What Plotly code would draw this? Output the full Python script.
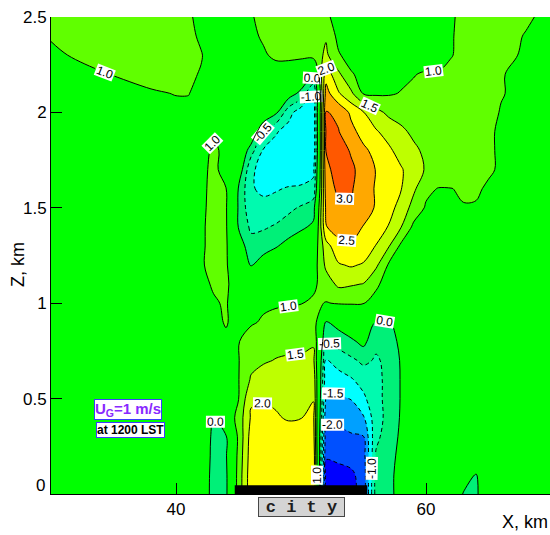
import plotly.graph_objects as go

# ---- grid (km) ----
X_KM = [30, 34, 38, 40, 41, 42, 43, 44, 45, 46, 47, 48, 49, 50, 51, 52,
        53, 54, 55, 56, 57, 58, 59, 60, 61, 62, 63, 64, 65, 66, 68, 70]
Z_KM = [0.0, 0.1, 0.2, 0.3, 0.4, 0.5, 0.6, 0.7, 0.8, 0.9, 1.0, 1.1, 1.2,
        1.3, 1.4, 1.5, 1.6, 1.7, 1.8, 1.9, 2.0, 2.1, 2.2, 2.3, 2.4, 2.5]

# horizontal wind U (m/s), rows listed from the top (z = 2.5 km) down to the surface
U_TOP_DOWN = [
    [1.20, 1.20, 1.15, 1.10, 1.05, 0.90, 0.85, 0.85, 0.90, 0.97, 1.10, 1.15, 1.20, 1.20, 1.20, 1.05, 0.90, 0.85, 0.80, 0.80, 0.80, 0.80, 0.80, 0.85, 0.90, 0.95, 1.10, 1.15, 1.15, 1.15, 1.05, 0.90],
    [1.02, 1.15, 1.15, 1.12, 1.08, 0.95, 0.85, 0.80, 0.85, 0.92, 1.05, 1.20, 1.25, 1.30, 1.35, 1.45, 0.85, 0.80, 0.80, 0.80, 0.80, 0.80, 0.80, 0.80, 0.90, 0.97, 1.10, 1.15, 1.15, 1.12, 0.98, 0.85],
    [0.95, 1.10, 1.12, 1.10, 1.08, 1.02, 0.85, 0.80, 0.80, 0.85, 0.95, 1.08, 1.10, 1.10, 1.20, 1.60, 1.05, 0.80, 0.75, 0.75, 0.75, 0.75, 0.75, 0.75, 0.85, 0.98, 1.10, 1.15, 1.15, 1.10, 0.95, 0.85],
    [0.90, 0.98, 1.10, 1.08, 1.05, 0.98, 0.85, 0.80, 0.80, 0.80, 0.80, 0.80, 0.75, 0.60, 0.10, 2.30, 1.60, 1.05, 0.85, 0.80, 0.80, 0.90, 0.98, 1.05, 1.03, 1.10, 1.15, 1.15, 1.12, 1.02, 0.90, 0.85],
    [0.85, 0.90, 0.97, 1.01, 1.01, 0.90, 0.85, 0.80, 0.80, 0.80, 0.75, 0.60, 0.30, -0.15, -1.10, 2.70, 2.05, 1.60, 0.95, 0.92, 0.95, 1.02, 1.08, 1.10, 1.12, 1.15, 1.15, 1.15, 1.12, 1.02, 0.90, 0.85],
    [0.85, 0.88, 0.92, 0.93, 0.92, 0.90, 0.92, 0.90, 0.85, 0.80, 0.60, 0.10, -0.80, -1.30, -1.35, 3.03, 2.90, 2.40, 2.02, 1.65, 1.40, 1.30, 1.20, 1.15, 1.15, 1.15, 1.15, 1.15, 1.10, 0.98, 0.88, 0.85],
    [0.85, 0.85, 0.90, 0.92, 0.93, 0.95, 0.98, 0.95, 0.85, 0.60, -0.60, -0.95, -1.20, -1.35, -1.40, 3.05, 3.02, 2.65, 2.30, 2.05, 1.80, 1.60, 1.40, 1.25, 1.20, 1.18, 1.18, 1.15, 1.05, 0.95, 0.88, 0.85],
    [0.85, 0.85, 0.88, 0.90, 0.92, 0.93, 1.03, 0.96, 0.70, -0.30, -1.05, -1.20, -1.35, -1.40, -1.40, 3.02, 3.25, 2.95, 2.60, 2.35, 2.10, 1.80, 1.60, 1.40, 1.30, 1.25, 1.20, 1.15, 1.05, 0.95, 0.88, 0.85],
    [0.85, 0.85, 0.86, 0.88, 0.90, 0.93, 1.06, 0.90, 0.40, -0.90, -1.20, -1.35, -1.40, -1.40, -1.10, 2.85, 3.25, 3.10, 2.80, 2.48, 2.25, 2.05, 1.75, 1.45, 1.35, 1.30, 1.25, 1.20, 1.05, 0.95, 0.88, 0.85],
    [0.85, 0.85, 0.86, 0.88, 0.90, 0.93, 1.08, 1.01, -0.03, -0.95, -1.10, -1.05, -0.95, -0.90, -0.85, 2.75, 3.10, 3.05, 2.75, 2.45, 2.20, 2.02, 1.60, 1.10, 0.98, 0.99, 1.05, 1.05, 0.95, 0.90, 0.88, 0.85],
    [0.85, 0.85, 0.86, 0.88, 0.90, 0.93, 1.10, 1.05, -0.05, -0.85, -0.85, -0.75, -0.60, -0.45, -0.20, 2.60, 2.90, 2.95, 2.75, 2.45, 2.15, 1.85, 1.30, 0.95, 0.90, 0.92, 0.98, 0.97, 0.90, 0.88, 0.87, 0.85],
    [0.85, 0.85, 0.86, 0.88, 0.90, 0.95, 1.10, 1.06, -0.03, -0.60, -0.55, -0.45, -0.30, -0.10, 0.10, 2.48, 2.70, 2.65, 2.48, 2.25, 1.98, 1.52, 0.90, 0.88, 0.87, 0.88, 0.88, 0.88, 0.87, 0.86, 0.85, 0.85],
    [0.85, 0.85, 0.86, 0.88, 0.90, 0.95, 1.10, 1.07, 0.30, -0.30, -0.25, -0.05, 0.20, 0.40, 0.60, 1.80, 2.35, 2.45, 2.30, 1.98, 1.55, 0.90, 0.87, 0.86, 0.86, 0.86, 0.86, 0.86, 0.85, 0.85, 0.85, 0.85],
    [0.85, 0.85, 0.86, 0.88, 0.90, 0.97, 1.08, 1.05, 0.60, -0.05, 0.30, 0.50, 0.60, 0.70, 0.75, 1.60, 1.95, 2.05, 1.95, 1.60, 0.95, 0.87, 0.86, 0.85, 0.85, 0.85, 0.85, 0.85, 0.85, 0.85, 0.85, 0.85],
    [0.85, 0.85, 0.86, 0.88, 0.90, 0.95, 1.02, 1.06, 0.80, 0.70, 0.75, 0.80, 0.85, 0.88, 0.90, 1.25, 1.60, 1.55, 1.48, 1.05, 0.88, 0.86, 0.85, 0.85, 0.85, 0.85, 0.85, 0.85, 0.85, 0.85, 0.85, 0.85],
    [0.85, 0.85, 0.86, 0.88, 0.90, 0.93, 0.98, 1.02, 0.85, 0.90, 0.93, 0.97, 0.98, 0.99, 1.08, 0.98, 1.03, 1.03, 1.01, 0.90, 0.87, 0.86, 0.85, 0.85, 0.85, 0.85, 0.85, 0.85, 0.85, 0.85, 0.85, 0.85],
    [0.85, 0.85, 0.86, 0.87, 0.88, 0.90, 0.93, 1.02, 0.90, 0.95, 1.05, 1.08, 1.10, 1.12, 1.30, -0.05, 0.20, 0.45, 0.50, -0.05, -0.05, 0.20, 0.60, 0.80, 0.85, 0.85, 0.85, 0.85, 0.85, 0.85, 0.85, 0.85],
    [0.85, 0.85, 0.86, 0.87, 0.88, 0.90, 0.92, 0.95, 0.98, 1.20, 1.30, 1.35, 1.38, 1.40, 1.45, -0.52, -0.30, -0.10, 0.15, -0.40, -0.20, 0.10, 0.60, 0.80, 0.85, 0.85, 0.85, 0.85, 0.85, 0.85, 0.85, 0.85],
    [0.85, 0.85, 0.86, 0.87, 0.88, 0.90, 0.92, 0.95, 0.98, 1.35, 1.45, 1.52, 1.55, 1.55, 1.60, -1.02, -0.80, -0.60, -0.40, -0.55, -0.40, 0.05, 0.50, 0.80, 0.85, 0.85, 0.85, 0.85, 0.85, 0.85, 0.85, 0.85],
    [0.85, 0.85, 0.86, 0.87, 0.88, 0.90, 0.90, 0.90, 0.98, 1.55, 1.70, 1.75, 1.80, 1.80, 1.85, -1.35, -1.20, -1.05, -0.80, -0.65, -0.35, 0.03, 0.40, 0.80, 0.85, 0.85, 0.85, 0.85, 0.85, 0.85, 0.85, 0.85],
    [0.85, 0.85, 0.86, 0.87, 0.88, 0.88, 0.90, 0.90, 0.98, 1.95, 1.98, 1.95, 1.95, 1.95, 1.98, -1.60, -1.58, -1.48, -1.10, -0.65, -0.35, 0.03, 0.35, 0.75, 0.85, 0.85, 0.85, 0.85, 0.85, 0.85, 0.85, 0.85],
    [0.85, 0.85, 0.86, 0.86, 0.86, 0.80, 0.02, 0.55, 1.20, 2.05, 2.08, 2.03, 1.97, 1.99, 2.10, -1.90, -1.85, -1.80, -1.55, -0.70, -0.35, 0.05, 0.30, 0.75, 0.85, 0.85, 0.85, 0.85, 0.85, 0.85, 0.85, 0.85],
    [0.85, 0.85, 0.85, 0.85, 0.85, 0.70, -0.20, -0.05, 1.10, 2.20, 2.20, 2.15, 2.15, 2.15, 2.20, -2.30, -2.20, -2.05, -2.02, -0.60, -0.30, 0.10, 0.30, 0.75, 0.85, 0.85, 0.85, 0.85, 0.85, 0.85, 0.85, 0.85],
    [0.85, 0.85, 0.85, 0.85, 0.85, 0.70, -0.25, -0.05, 1.15, 2.25, 2.30, 2.25, 2.25, 2.30, 2.35, -2.45, -2.40, -2.30, -2.20, -0.45, -0.20, 0.15, 0.30, 0.75, 0.85, 0.85, 0.80, 0.75, 0.82, 0.85, 0.85, 0.85],
    [0.85, 0.85, 0.85, 0.85, 0.85, 0.65, -0.30, -0.10, 1.20, 2.30, 2.35, 2.30, 2.30, 2.35, 2.40, -2.70, -2.65, -2.60, -2.30, -0.30, -0.15, 0.20, 0.35, 0.75, 0.85, 0.80, 0.40, -0.05, 0.60, 0.85, 0.85, 0.85],
    [0.85, 0.85, 0.85, 0.85, 0.85, 0.60, -0.30, -0.10, 1.20, 2.30, 2.35, 2.30, 2.30, 2.35, 2.40, -2.75, -2.70, -2.65, -2.30, -0.30, -0.15, 0.20, 0.35, 0.75, 0.85, 0.70, -0.05, -0.10, 0.50, 0.85, 0.85, 0.85],
]

# contour levels
LEVEL_START, LEVEL_END, LEVEL_STEP = -2.5, 3.0, 0.5

# one fill colour per band, from below -2.5 up to above 3.0
BAND_COLORS = [
    "rgb(0,0,255)",      # < -2.5
    "rgb(0,80,255)",     # -2.5 .. -2.0
    "rgb(0,160,255)",    # -2.0 .. -1.5
    "rgb(0,255,255)",    # -1.5 .. -1.0
    "rgb(0,250,175)",    # -1.0 .. -0.5
    "rgb(0,240,120)",    # -0.5 .. 0.0
    "rgb(0,255,0)",      # 0.0 .. 0.5
    "rgb(0,255,0)",      # 0.5 .. 1.0
    "rgb(96,255,0)",     # 1.0 .. 1.5
    "rgb(190,255,0)",    # 1.5 .. 2.0
    "rgb(255,255,0)",    # 2.0 .. 2.5
    "rgb(255,168,0)",    # 2.5 .. 3.0
    "rgb(255,88,0)",     # > 3.0
]

CITY_X = [44.7, 55.3]
X_TICKS = [40, 60]
Y_TICKS = [0, 0.5, 1, 1.5, 2, 2.5]
Y_TICK_TEXT = ["0", "0.5", "1", "1.5", "2", "2.5"]

U = list(reversed(U_TOP_DOWN))

# piecewise-constant colour scale: band k is sampled at k / (n-1)
n = len(BAND_COLORS)
scale = []
for k, c in enumerate(BAND_COLORS):
    lo = max(0.0, (k - 0.5) / (n - 1))
    hi = min(1.0, (k + 0.5) / (n - 1))
    scale.append([lo, c])
    scale.append([hi, c])

FONT = "Liberation Sans, Arial, sans-serif"
TICK_SIZE = 17
label_font = dict(family=FONT, size=12, color="black")

fig = go.Figure()

fig.add_trace(go.Contour(
    x=X_KM, y=Z_KM, z=U,
    autocontour=False,
    contours=dict(start=LEVEL_START, end=LEVEL_END, size=LEVEL_STEP,
                  coloring="fill", showlines=False),
    colorscale=scale, showscale=False,
    line=dict(width=0), hoverinfo="skip",
))


def line_set(start, end, dash):
    return go.Contour(
        x=X_KM, y=Z_KM, z=U,
        autocontour=False,
        contours=dict(start=start, end=end, size=LEVEL_STEP,
                      coloring="none", showlabels=True,
                      labelfont=label_font, labelformat=".1f"),
        line=dict(color="black", width=1, dash=dash),
        showscale=False, hoverinfo="skip",
    )


fig.add_trace(line_set(LEVEL_START, -0.5, "4px,3px"))
fig.add_trace(line_set(0.0, 0.0, "solid"))
fig.add_trace(line_set(1.0, LEVEL_END, "solid"))

# city footprint on the ground
fig.add_trace(go.Scatter(
    x=CITY_X, y=[0.02, 0.02], mode="lines",
    line=dict(color="black", width=10),
    cliponaxis=False, hoverinfo="skip", showlegend=False,
))

# the zero label of the height axis sits a little above its tick
ytext_axis = [("" if v == 0 else t) for v, t in zip(Y_TICKS, Y_TICK_TEXT)]
zero_label = [t for v, t in zip(Y_TICKS, Y_TICK_TEXT) if v == 0][0]

fig.update_layout(
    width=550, height=535,
    margin=dict(l=51, r=0, t=17, b=41),
    paper_bgcolor="white", plot_bgcolor="white",
    showlegend=False,
    font=dict(family=FONT, size=TICK_SIZE, color="black"),
    xaxis=dict(range=[30, 69.92], tickvals=X_TICKS, ticks="inside",
               ticklen=11, tickwidth=1, tickcolor="black",
               showline=True, linecolor="black", linewidth=1,
               showgrid=False, zeroline=False,
               tickfont=dict(family=FONT, size=TICK_SIZE)),
    yaxis=dict(range=[0, 2.5], tickvals=Y_TICKS, ticktext=ytext_axis,
               ticks="inside", ticklen=11, tickwidth=1, tickcolor="black",
               showline=True, linecolor="black", linewidth=1,
               showgrid=False, zeroline=False,
               tickfont=dict(family=FONT, size=TICK_SIZE)),
    annotations=[
        dict(text=zero_label, xref="paper", yref="paper",
             x=-0.008, y=0, yshift=9, xanchor="right", yanchor="middle",
             showarrow=False, font=dict(family=FONT, size=TICK_SIZE)),
        dict(text="Z, km", textangle=-90, xref="paper", yref="paper",
             x=-0.066, y=0.48, xanchor="center", yanchor="middle",
             showarrow=False, font=dict(family=FONT, size=18)),
        dict(text="X, km", xref="paper", yref="paper",
             x=0.95, y=-0.059, xanchor="center", yanchor="middle",
             showarrow=False, font=dict(family=FONT, size=18)),
        dict(text="<b>U<sub>G</sub>=1 m/s</b>", xref="paper", yref="paper",
             x=0.155, y=0.178, xanchor="center", yanchor="middle",
             showarrow=False,
             font=dict(family=FONT, size=15, color="rgb(136,40,255)"),
             bgcolor="white", bordercolor="rgb(60,60,255)", borderwidth=1,
             borderpad=0),
        dict(text="<b>at 1200 LST</b>", xref="paper", yref="paper",
             x=0.159, y=0.134, xanchor="center", yanchor="middle",
             showarrow=False,
             font=dict(family=FONT, size=12, color="black"),
             bgcolor="white", bordercolor="rgb(60,60,255)", borderwidth=1,
             borderpad=0),
        dict(text="<b>c i t y</b>", xref="paper", yref="paper",
             x=0.502, y=-0.027, xanchor="center", yanchor="middle",
             showarrow=False, width=85, height=18,
             font=dict(family="Liberation Mono, Courier New, monospace",
                       size=17, color="rgb(30,30,30)"),
             bgcolor="rgb(212,212,212)", bordercolor="rgb(70,70,70)",
             borderwidth=1, borderpad=0),
    ],
)

# white boxes behind the contour labels, with plain hyphen minus signs
post = """
var gd = document.getElementById('{plot_id}');
function boxLabels() {
  gd.querySelectorAll('g.contourlabels').forEach(function (g) {
    g.querySelectorAll('rect.lblbg').forEach(function (r) { r.remove(); });
    g.querySelectorAll('text').forEach(function (t) {
      t.textContent = t.textContent.replace('\\u2212', '-');
      var b = t.getBBox();
      var r = document.createElementNS('http://www.w3.org/2000/svg', 'rect');
      r.setAttribute('class', 'lblbg');
      r.setAttribute('x', b.x - 1);
      r.setAttribute('y', b.y + 1);
      r.setAttribute('width', b.width + 2);
      r.setAttribute('height', b.height - 2);
      var tr = t.getAttribute('transform');
      if (tr) r.setAttribute('transform', tr);
      r.setAttribute('fill', 'white');
      g.insertBefore(r, t);
    });
  });
}
setTimeout(boxLabels, 50);
"""

fig.write_html("out.html", post_script=post)
